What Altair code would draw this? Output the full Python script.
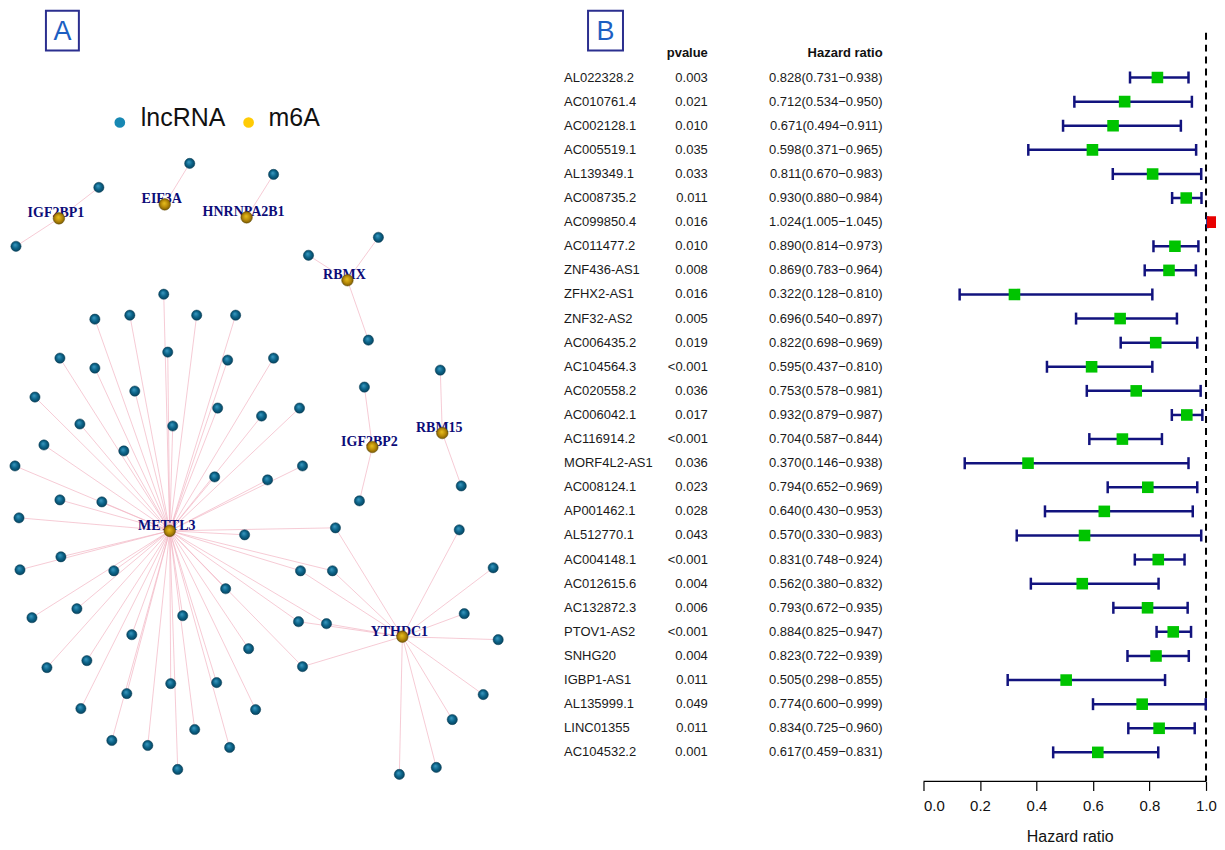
import altair as alt
import pandas as pd

# ---------------- Panel A: lncRNA / m6A network ----------------
hub_names = ["IGF2BP1", "EIF3A", "HNRNPA2B1", "RBMX", "IGF2BP2", "RBM15", "METTL3", "YTHDC1"]
hub_x = [58, 164, 246, 347, 372, 442, 169, 402]
hub_y = [218, 204, 217, 280, 447, 433, 531, 637]

igf2bp1_x = [98, 15]
igf2bp1_y = [187, 246]
eif3a_x = [189]
eif3a_y = [163]
hnrnpa2b1_x = [273]
hnrnpa2b1_y = [174]
rbmx_x = [308, 378, 368]
rbmx_y = [255, 237, 340]
igf2bp2_x = [364, 359]
igf2bp2_y = [387, 501]
rbm15_x = [440, 461]
rbm15_y = [370, 486]
mettl3_x = [163, 94, 129, 196, 235, 59, 94, 167, 227, 273, 34, 134, 217, 261, 299, 79, 172, 43,
            123, 14, 214, 267, 302, 59, 101, 18, 244, 60, 19, 113, 31, 76, 131, 86, 46, 182, 225,
            248, 126, 170, 216, 80, 255, 111, 147, 194, 229, 177]
mettl3_y = [294, 319, 315, 315, 315, 358, 368, 352, 360, 358, 397, 391, 408, 416, 408, 424, 426, 445,
            451, 466, 477, 480, 466, 500, 502, 518, 535, 557, 570, 571, 618, 609, 635, 661, 668, 616, 589,
            649, 694, 684, 683, 709, 710, 741, 746, 730, 748, 770]
ythdc1_x = [493, 464, 498, 483, 452, 436, 399, 459]
ythdc1_y = [568, 614, 640, 695, 720, 768, 775, 530]
shared_x = [335, 300, 332, 298, 326, 302]   # linked to METTL3 and YTHDC1
shared_y = [528, 571, 571, 622, 624, 667]

legend_labels = ["lncRNA", "m6A"]

# ---------------- Panel B: forest plot ----------------
genes = ["AL022328.2", "AC010761.4", "AC002128.1", "AC005519.1", "AL139349.1", "AC008735.2",
         "AC099850.4", "AC011477.2", "ZNF436-AS1", "ZFHX2-AS1", "ZNF32-AS2", "AC006435.2",
         "AC104564.3", "AC020558.2", "AC006042.1", "AC116914.2", "MORF4L2-AS1", "AC008124.1",
         "AP001462.1", "AL512770.1", "AC004148.1", "AC012615.6", "AC132872.3", "PTOV1-AS2",
         "SNHG20", "IGBP1-AS1", "AL135999.1", "LINC01355", "AC104532.2"]
pvalues = ["0.003", "0.021", "0.010", "0.035", "0.033", "0.011", "0.016", "0.010", "0.008", "0.016",
           "0.005", "0.019", "<0.001", "0.036", "0.017", "<0.001", "0.036", "0.023", "0.028", "0.043",
           "<0.001", "0.004", "0.006", "<0.001", "0.004", "0.011", "0.049", "0.011", "0.001"]
hr = [0.828, 0.712, 0.671, 0.598, 0.811, 0.930, 1.024, 0.890, 0.869, 0.322, 0.696, 0.822, 0.595,
      0.753, 0.932, 0.704, 0.370, 0.794, 0.640, 0.570, 0.831, 0.562, 0.793, 0.884, 0.823, 0.505,
      0.774, 0.834, 0.617]
hr_low = [0.731, 0.534, 0.494, 0.371, 0.670, 0.880, 1.005, 0.814, 0.783, 0.128, 0.540, 0.698, 0.437,
          0.578, 0.879, 0.587, 0.146, 0.652, 0.430, 0.330, 0.748, 0.380, 0.672, 0.825, 0.722, 0.298,
          0.600, 0.725, 0.459]
hr_high = [0.938, 0.950, 0.911, 0.965, 0.983, 0.984, 1.045, 0.973, 0.964, 0.810, 0.897, 0.969, 0.810,
           0.981, 0.987, 0.844, 0.938, 0.969, 0.953, 0.983, 0.924, 0.832, 0.935, 0.947, 0.939, 0.855,
           0.999, 0.960, 0.831]
axis_ticks = [0.0, 0.2, 0.4, 0.6, 0.8, 1.0]

# ---------------- build tables ----------------
hub_pos = {n: (x, y) for n, x, y in zip(hub_names, hub_x, hub_y)}
groups = [
    (["IGF2BP1"], igf2bp1_x, igf2bp1_y),
    (["EIF3A"], eif3a_x, eif3a_y),
    (["HNRNPA2B1"], hnrnpa2b1_x, hnrnpa2b1_y),
    (["RBMX"], rbmx_x, rbmx_y),
    (["IGF2BP2"], igf2bp2_x, igf2bp2_y),
    (["RBM15"], rbm15_x, rbm15_y),
    (["METTL3"], mettl3_x, mettl3_y),
    (["YTHDC1"], ythdc1_x, ythdc1_y),
    (["METTL3", "YTHDC1"], shared_x, shared_y),
]
lnc_rows, edge_rows = [], []
for hubs, xs_, ys_ in groups:
    for x, y in zip(xs_, ys_):
        lnc_rows.append({"x": x, "y": y})
        for h in hubs:
            hx, hy = hub_pos[h]
            edge_rows.append({"x": hx, "y": hy, "x2": x, "y2": y})
lnc_df = pd.DataFrame(lnc_rows)
edge_df = pd.DataFrame(edge_rows)
hub_df = pd.DataFrame({"name": hub_names, "x": hub_x, "y": hub_y})

forest_df = pd.DataFrame({"gene": genes, "p": pvalues, "hr": hr, "low": hr_low, "high": hr_high,
                          "row": list(range(len(genes)))})
forest_df["label"] = [f"{h:.3f}({l:.3f}\u2212{u:.3f})" for h, l, u in zip(hr, hr_low, hr_high)]

# ---------------- layout constants ----------------
W_A, W_B, W_C, H = 545, 371, 293, 774
PX_PER_UNIT = 283
xsA = alt.Scale(domain=[8, 553], nice=False, zero=False)
ysA = alt.Scale(domain=[8, 782], nice=False, zero=False, reverse=True)
row_scale = alt.Scale(domain=[-2.858, 29.205], nice=False, zero=False, reverse=True)

blue_grad = alt.RadialGradient(gradient="radial",
                               stops=[alt.GradientStop(color="#3c9cc4", offset=0),
                                      alt.GradientStop(color="#0b6287", offset=0.55),
                                      alt.GradientStop(color="#073f58", offset=1)],
                               x1=0.4, y1=0.35, r1=0, x2=0.5, y2=0.5, r2=0.55)
gold_grad = alt.RadialGradient(gradient="radial",
                               stops=[alt.GradientStop(color="#e8c020", offset=0),
                                      alt.GradientStop(color="#b88a08", offset=0.55),
                                      alt.GradientStop(color="#6e5204", offset=1)],
                               x1=0.45, y1=0.4, r1=0, x2=0.5, y2=0.5, r2=0.55)

# ---------------- Panel A chart ----------------
edges = alt.Chart(edge_df).mark_rule(color="#f2b4c3", strokeWidth=0.7).encode(
    x=alt.X("x:Q", scale=xsA, axis=None), y=alt.Y("y:Q", scale=ysA, axis=None),
    x2="x2:Q", y2="y2:Q")
hub_labels = alt.Chart(hub_df).mark_text(font="Liberation Serif", fontWeight="bold", fontSize=14,
                                         color="#0c0c78", dx=-3, dy=-5).encode(
    x=alt.X("x:Q", scale=xsA, axis=None), y=alt.Y("y:Q", scale=ysA, axis=None), text="name:N")
lnc_nodes = alt.Chart(lnc_df).mark_point(shape="circle", filled=True, size=105, fill=blue_grad,
                                         stroke="#063a52", strokeWidth=0.5, opacity=1).encode(
    x=alt.X("x:Q", scale=xsA, axis=None), y=alt.Y("y:Q", scale=ysA, axis=None))
hub_nodes = alt.Chart(hub_df).mark_point(shape="circle", filled=True, size=135, fill=gold_grad,
                                         stroke="#5e4603", strokeWidth=0.5, opacity=1).encode(
    x=alt.X("x:Q", scale=xsA, axis=None), y=alt.Y("y:Q", scale=ysA, axis=None))

tagA = pd.DataFrame({"t": ["A"]})
boxA = alt.Chart(tagA).mark_rect(filled=False, stroke="#2b2f8f", strokeWidth=2).encode(
    x=alt.value(37), x2=alt.value(70), y=alt.value(2), y2=alt.value(42))
letterA = alt.Chart(tagA).mark_text(font="Liberation Sans", fontSize=27, color="#1d5fc2").encode(
    x=alt.value(53.5), y=alt.value(23), text="t:N")

leg_df = pd.DataFrame({"t": legend_labels})
leg_dot1 = alt.Chart(leg_df).transform_filter(alt.datum.t == "lncRNA").mark_point(
    shape="circle", filled=True, size=115, color="#1788b3", opacity=1).encode(
    x=alt.value(111), y=alt.value(114))
leg_dot2 = alt.Chart(leg_df).transform_filter(alt.datum.t == "m6A").mark_point(
    shape="circle", filled=True, size=115, color="#ffcb05", opacity=1).encode(
    x=alt.value(240), y=alt.value(114))
leg_txt1 = alt.Chart(leg_df).transform_filter(alt.datum.t == "lncRNA").mark_text(
    font="Liberation Sans", fontSize=25, align="left", baseline="middle", color="#111").encode(
    x=alt.value(132), y=alt.value(110), text="t:N")
leg_txt2 = alt.Chart(leg_df).transform_filter(alt.datum.t == "m6A").mark_text(
    font="Liberation Sans", fontSize=25, align="left", baseline="middle", color="#111").encode(
    x=alt.value(260), y=alt.value(110), text="t:N")

panelA = alt.layer(edges, hub_labels, lnc_nodes, hub_nodes, boxA, letterA,
                   leg_dot1, leg_dot2, leg_txt1, leg_txt2).properties(width=W_A, height=H)

# ---------------- Panel B table ----------------
txt_font = "Liberation Sans"
ycol = alt.Y("row:Q", scale=row_scale, axis=None)
gene_txt = alt.Chart(forest_df).mark_text(font=txt_font, fontSize=13, align="left",
                                          baseline="middle", color="#1a1a1a").encode(
    x=alt.value(11), y=ycol, text="gene:N")
p_txt = alt.Chart(forest_df).mark_text(font=txt_font, fontSize=13, align="right",
                                       baseline="middle", color="#1a1a1a").encode(
    x=alt.value(155), y=ycol, text="p:N")
hr_txt = alt.Chart(forest_df).mark_text(font=txt_font, fontSize=13, align="right",
                                        baseline="middle", color="#1a1a1a").encode(
    x=alt.value(330), y=ycol, text="label:N")
head_df = pd.DataFrame({"row": [-1, -1], "t": ["pvalue", "Hazard ratio"], "col": ["p", "hr"]})
head_p = alt.Chart(head_df).transform_filter(alt.datum.col == "p").mark_text(
    font=txt_font, fontSize=13, fontWeight="bold", align="right", baseline="middle", color="#111").encode(
    x=alt.value(155), y=ycol, text="t:N")
head_hr = alt.Chart(head_df).transform_filter(alt.datum.col == "hr").mark_text(
    font=txt_font, fontSize=13, fontWeight="bold", align="right", baseline="middle", color="#111").encode(
    x=alt.value(330), y=ycol, text="t:N")
tagB = pd.DataFrame({"t": ["B"]})
boxB = alt.Chart(tagB).mark_rect(filled=False, stroke="#2b2f8f", strokeWidth=2).encode(
    x=alt.value(35), x2=alt.value(70), y=alt.value(2), y2=alt.value(42))
letterB = alt.Chart(tagB).mark_text(font="Liberation Sans", fontSize=27, color="#1d5fc2").encode(
    x=alt.value(52.5), y=alt.value(23), text="t:N")

panelB = alt.layer(gene_txt, p_txt, hr_txt, head_p, head_hr, boxB, letterB).properties(
    width=W_B, height=H)

# ---------------- Panel B forest ----------------
navy = "#12137e"
xs_f = alt.Scale(domain=[0, W_C / PX_PER_UNIT], nice=False, zero=False)
xaxis = alt.Axis(values=axis_ticks, format=".1f", title="Hazard ratio", titleFontSize=16,
                 titleFontWeight="normal", titleColor="#111", titlePadding=15,
                 labelFontSize=15, labelColor="#111", labelPadding=8, tickSize=9,
                 tickColor="#000", tickWidth=1.2, domain=False,
                 grid=False, labelFont=txt_font, titleFont=txt_font)
ci = alt.Chart(forest_df).mark_rule(color=navy, strokeWidth=2.5, clip=True).encode(
    x=alt.X("low:Q", scale=xs_f, axis=xaxis), x2="high:Q", y=ycol)
cap_lo = alt.Chart(forest_df).mark_tick(orient="vertical", size=12, thickness=2.5, color=navy,
                                        opacity=1, clip=True).encode(
    x=alt.X("low:Q", scale=xs_f), y=ycol)
cap_hi = alt.Chart(forest_df).mark_tick(orient="vertical", size=12, thickness=2.5, color=navy,
                                        opacity=1, clip=True).encode(
    x=alt.X("high:Q", scale=xs_f), y=ycol)
ref_df = pd.DataFrame({"v": [1.0], "v0": [0.0]})
ref = alt.Chart(ref_df).mark_rule(color="#000", strokeWidth=2, strokeDash=[7, 5]).encode(
    x=alt.X("v:Q", scale=xs_f), y=alt.value(24), y2=alt.value(H))
axis_line = alt.Chart(ref_df).mark_rule(color="#000", strokeWidth=1.2).encode(
    x=alt.X("v0:Q", scale=xs_f), x2="v:Q", y=alt.value(H))
boxes = alt.Chart(forest_df).mark_point(shape="square", filled=True, size=135, opacity=1,
                                        clip=True).encode(
    x=alt.X("hr:Q", scale=xs_f), y=ycol,
    color=alt.condition(alt.datum.hr > 1, alt.value("#e80000"), alt.value("#00c400")))

panelC = alt.layer(ci, ref, axis_line, cap_lo, cap_hi, boxes).properties(width=W_C, height=H)

chart = alt.hconcat(panelA, panelB, panelC, spacing=0, bounds="flush").resolve_scale(
    x="independent", y="independent").properties(padding=0).configure(
    font="Liberation Sans").configure_view(strokeWidth=0, stroke=None)

chart.save("out.html", embed_options={"renderer": "svg", "actions": False})
